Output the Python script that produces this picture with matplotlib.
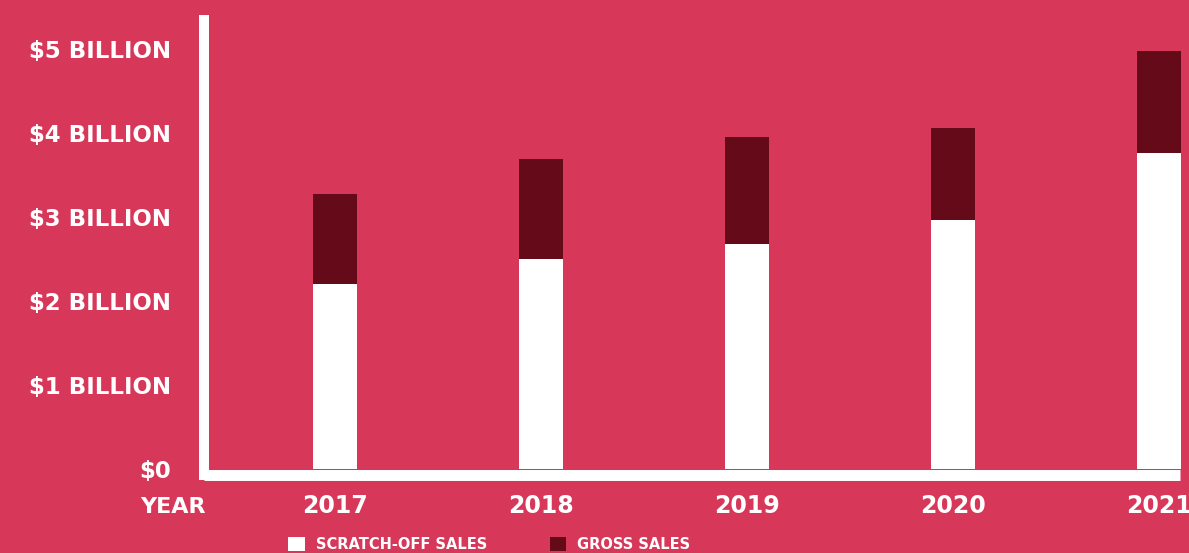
import numpy as np
import matplotlib
matplotlib.use("Agg")
import matplotlib.pyplot as plt
from matplotlib.patches import Patch

# Data (billions of dollars)
years = ["2017", "2018", "2019", "2020", "2021"]
gross_sales = [3.27, 3.69, 3.95, 4.06, 4.98]
scratch_sales = [2.20, 2.50, 2.68, 2.96, 3.76]
y_ticks = [0, 1, 2, 3, 4, 5]
y_labels = ["$0", "$1 BILLION", "$2 BILLION", "$3 BILLION", "$4 BILLION", "$5 BILLION"]

BG = "#D7385A"
DARK = "#650A19"
WHITE = "#FFFFFF"

plt.rcParams["font.family"] = ["DejaVu Sans"]
plt.rcParams["font.weight"] = "bold"

W, H = 1189, 553
fig = plt.figure(figsize=(W / 100, H / 100), dpi=100)
fig.patch.set_facecolor(BG)

left_px, right_px, top_px, bottom_px = 204, 1180, 20, 475
ax = fig.add_axes([left_px / W, 1 - bottom_px / H,
                   (right_px - left_px) / W, (bottom_px - top_px) / H])
ax.set_facecolor(BG)

x = np.arange(len(years))
width = 44 / 206
ax.bar(x, gross_sales, width=width, color=DARK, zorder=2, clip_on=False)
ax.bar(x, scratch_sales, width=width, color=WHITE, zorder=3, clip_on=False)

ax.set_xlim(-(335 - left_px) / 206, (right_px - 335) / 206)
ax.set_ylim(-0.07, (469 - top_px) / 84)

# Spines
for s in ["top", "right"]:
    ax.spines[s].set_visible(False)
ax.spines["left"].set_color(WHITE)
ax.spines["left"].set_linewidth(7.2)
ax.spines["left"].set_capstyle("projecting")
ax.spines["bottom"].set_color(WHITE)
ax.spines["bottom"].set_linewidth(7.9)
ax.spines["bottom"].set_capstyle("butt")

ax.set_yticks(y_ticks)
ax.set_yticklabels(y_labels, fontsize=16.5, fontweight="heavy", color=WHITE)
ax.set_xticks(x)
ax.set_xticklabels(years, fontsize=17, fontweight="heavy", color=WHITE)
ax.tick_params(axis="y", length=0, pad=24)
ax.tick_params(axis="x", length=0, pad=14)

fig.text(173 / W, 1 - 507 / H, "YEAR", fontsize=16, fontweight="heavy",
         color=WHITE, ha="center", va="center")

handles = [Patch(facecolor=WHITE, edgecolor="none", label="SCRATCH-OFF SALES"),
           Patch(facecolor=DARK, edgecolor="none", label="GROSS SALES")]
leg = fig.legend(handles=handles, loc="lower left", bbox_to_anchor=(288 / W, 1 / H),
                 ncol=2, frameon=False, fontsize=10.5, handlelength=1.15,
                 handleheight=1.15, handletextpad=0.75, columnspacing=4.3,
                 borderpad=0, borderaxespad=0)
for t in leg.get_texts():
    t.set_color(WHITE)
    t.set_fontweight("heavy")

fig.savefig("out.png", dpi=100, facecolor=BG)
